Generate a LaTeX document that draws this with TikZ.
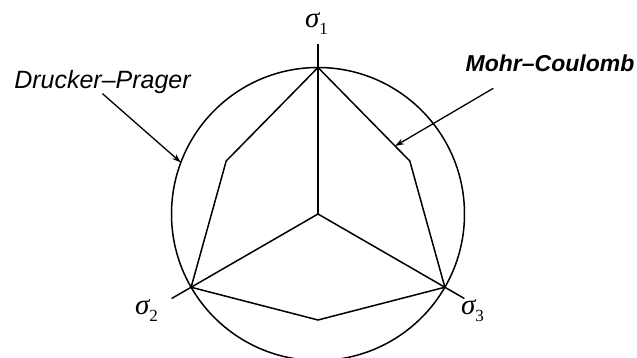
\documentclass[tikz,border=0pt]{standalone}
\usepackage{fontspec}
\setmainfont{Liberation Sans}
\newfontfamily\greekfont{Liberation Serif}
\usetikzlibrary{arrows.meta,calc}
\newcommand{\sigaxis}[1]{{\greekfont\itshape σ}\raisebox{-7pt}{\greekfont\fontsize{17}{17}\selectfont #1}}

\begin{document}
\begin{tikzpicture}[
  x=1pt, y=1pt,
  line/.style={line width=1.5pt, black, line join=miter},
  arr/.style={-{Stealth[length=9pt, width=6pt]}, line width=1.3pt},
  axislbl/.style={inner sep=0pt, font=\fontsize{29}{31}\selectfont},
  tag/.style={inner sep=0pt, anchor=base, font=\fontsize{25}{27}\selectfont\itshape}
]
  \useasboundingbox (-318,-144) rectangle (319,214);

  \coordinate (o) at (0,0);
  % Drucker-Prager circle meets the axes here
  \coordinate (s1) at (90:146.5);
  \coordinate (s2) at (210:146.5);
  \coordinate (s3) at (330:146.5);
  % inner corners of Mohr-Coulomb
  \coordinate (m1) at (150:106);
  \coordinate (m2) at (30:106);
  \coordinate (m3) at (270:106);
  % axis ends
  \coordinate (a1) at (90:170);
  \coordinate (a2) at (210:169);
  \coordinate (a3) at (330:169);

  \draw[line] (o) circle (146.5);
  \draw[line] (o) -- (a1);
  \draw[line] (o) -- (a2);
  \draw[line] (o) -- (a3);
  \draw[line] (s1) -- (m2) -- (s3) -- (m3) -- (s2) -- (m1) -- cycle;

  \node[axislbl] (l1) at (-1.5,190) {\sigaxis{1}};
  \node[axislbl] (l2) at (-171.5,-97) {\sigaxis{2}};
  \node[axislbl] (l3) at (154.5,-97) {\sigaxis{3}};

  \node[tag] (dp) at (-215.5,125.7) {Drucker–Prager};
  \node[tag, font=\fontsize{23}{25}\selectfont\bfseries\itshape] (mc) at (232,142.3) {Mohr–Coulomb};

  \coordinate (dpTip) at (159.4:146.5);
  \coordinate (mcTail) at (175.3,125.7);
  \coordinate (mcTip) at ($(s1)!0.84!(m2)$);

  \draw[arr] (dp.south) -- (dpTip);
  \draw[arr] (mcTail) -- (mcTip);
\end{tikzpicture}
\end{document}
